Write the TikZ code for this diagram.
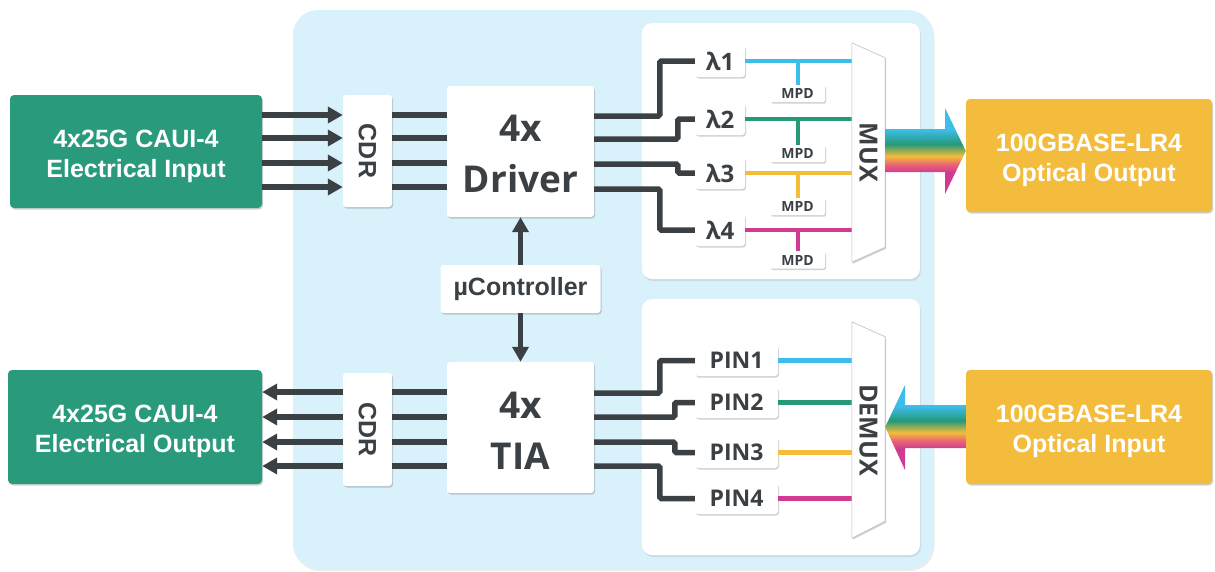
\documentclass[tikz,border=0pt]{standalone}
\usepackage{fontspec}
\setmainfont{Liberation Sans}
\newfontfamily\osans{Open Sans}
\usetikzlibrary{arrows.meta,shadows,calc}

\definecolor{panelblue}{RGB}{217,241,251}
\definecolor{boxgreen}{RGB}{41,155,124}
\definecolor{boxorange}{RGB}{244,188,60}
\definecolor{ink}{RGB}{59,64,69}
\definecolor{lcyan}{RGB}{61,189,234}
\definecolor{lgreen}{RGB}{37,153,120}
\definecolor{lyellow}{RGB}{245,188,58}
\definecolor{lpink}{RGB}{232,98,118}
\definecolor{lmag}{RGB}{208,58,145}

\pgfdeclareverticalshading{rainbow}{100bp}{color(0bp)=(lmag); color(37.5bp)=(lmag); color(42bp)=(lpink); color(47bp)=(lyellow); color(54bp)=(lgreen); color(62.5bp)=(lcyan); color(100bp)=(lcyan)}

\tikzset{
  softshadow/.style={drop shadow={shadow xshift=1pt, shadow yshift=-1.5pt, opacity=0.18, fill=black}},
  wbox/.style={fill=white, rounded corners=3pt, inner sep=0pt, softshadow},
  gbox/.style={fill=boxgreen, rounded corners=4pt, inner sep=0pt, softshadow},
  obox/.style={gbox, fill=boxorange},
  gtxt/.style={text=white, align=center, yshift=-5pt, font=\bfseries\fontsize{25}{30}\selectfont},
  bigtxt/.style={text=ink, align=center, yshift=-2pt, font=\osans\bfseries\fontsize{37}{51}\selectfont},
  cdrtxt/.style={rotate=-90, text=ink, font=\bfseries\fontsize{25}{28}\selectfont},
  muxtxt/.style={rotate=-90, text=ink, font=\osans\bfseries\fontsize{25}{28}\selectfont},
  lam/.style={wbox, minimum width=50pt, minimum height=32pt, text=ink, font=\osans\bfseries\fontsize{24}{28}\selectfont},
  mpd/.style={wbox, rounded corners=1.5pt, minimum width=55pt, minimum height=17pt, text=ink, font=\osans\bfseries\fontsize{14}{16}\selectfont},
  pin/.style={wbox, minimum width=83pt, minimum height=31pt, text=ink, font=\osans\bfseries\fontsize{23}{28}\selectfont},
  mshape/.style={fill=white, draw=black!25, line width=0.6pt, softshadow},
  wire/.style={ink, line width=5.5pt, rounded corners=1.5pt},
  arr/.style={wire, -{Triangle[length=15pt,width=16pt]}},
  cl/.style={line width=4.5pt},
  stub/.style={line width=4pt},
}

\begin{document}
\begin{tikzpicture}[x=1pt,y=-1pt]
\useasboundingbox (0,0) rectangle (1215,571);

% panels
\path[fill=panelblue, rounded corners=25pt, drop shadow={shadow xshift=1.5pt, shadow yshift=-2pt, opacity=0.15}] (293,10) rectangle (933,569);
\path[fill=white, rounded corners=10pt, drop shadow={shadow xshift=1pt, shadow yshift=-2pt, opacity=0.18}] (642,23) rectangle (920,279);
\path[fill=white, rounded corners=10pt, drop shadow={shadow xshift=1pt, shadow yshift=-2pt, opacity=0.18}] (642,299) rectangle (920,555);

% outer boxes
\node[gbox, minimum width=252pt, minimum height=113pt, label={[gtxt]center:{4x25G CAUI-4\\Electrical Input}}] (gin) at (136,151.5) {};
\node[gbox, minimum width=254pt, minimum height=114pt, label={[gtxt, yshift=1pt]center:{4x25G CAUI-4\\Electrical Output}}] (gout) at (135,427) {};
\node[obox, minimum width=246pt, minimum height=113pt, label={[gtxt]center:{100GBASE-LR4\\Optical Output}}] (oout) at (1089,155.5) {};
\node[obox, minimum width=246pt, minimum height=114pt, label={[gtxt, yshift=1pt]center:{100GBASE-LR4\\Optical Input}}] (oin) at (1089,427) {};

% inner blocks
\node[wbox, minimum width=49pt, minimum height=112pt, label={[cdrtxt]center:CDR}] (cdr1) at (367.5,151) {};
\node[wbox, minimum width=49pt, minimum height=113pt, label={[cdrtxt]center:CDR}] (cdr2) at (367.5,429.5) {};
\node[wbox, minimum width=147pt, minimum height=131pt, label={[bigtxt]center:{4x\\Driver}}] (drv) at (520.5,151.5) {};
\node[wbox, minimum width=147pt, minimum height=131pt, label={[bigtxt, yshift=-1pt]center:{4x\\TIA}}] (tia) at (520.5,427.5) {};
\node[wbox, minimum width=160pt, minimum height=48pt, text=ink, font=\bfseries\fontsize{25}{30}\selectfont] (uc) at (520.5,289) {µController};

% lambda and MPD
\node[lam] (l1) at (720,61) {λ1};
\node[lam] (l2) at (720,119) {λ2};
\node[lam] (l3) at (720,173) {λ3};
\node[lam] (l4) at (720,230) {λ4};
\node[mpd] (m1) at (797.5,93.5) {MPD};
\node[mpd] (m2) at (797.5,153.5) {MPD};
\node[mpd] (m3) at (797.5,206.5) {MPD};
\node[mpd] (m4) at (797.5,260) {MPD};

% PIN
\node[pin] (p1) at (736.5,360.5) {PIN1};
\node[pin] (p2) at (736.5,402.5) {PIN2};
\node[pin] (p3) at (736.5,452.5) {PIN3};
\node[pin] (p4) at (736.5,498.5) {PIN4};

% MUX / DEMUX frames
\node[inner sep=0pt, minimum width=33pt, minimum height=219pt] (mux) at (868.5,152.5) {};
\node[inner sep=0pt, minimum width=33pt, minimum height=216pt] (dmx) at (868.5,430) {};

% coloured lines
\draw[cl, lcyan] (l1.east) -- (l1.east -| mux.west);
\draw[cl, lgreen] (l2.east) -- (l2.east -| mux.west);
\draw[cl, lyellow] (l3.east) -- (l3.east -| mux.west);
\draw[cl, lmag] (l4.east) -- (l4.east -| mux.west);
\draw[stub, lcyan] (m1.north) -- (m1.north |- l1.east);
\draw[stub, lgreen] (m2.north) -- (m2.north |- l2.east);
\draw[stub, lyellow] (m3.north) -- (m3.north |- l3.east);
\draw[stub, lmag] (m4.north) -- (m4.north |- l4.east);
\draw[cl, lcyan] (p1.east) -- (p1.east -| dmx.west);
\draw[cl, lgreen] (p2.east) -- (p2.east -| dmx.west);
\draw[cl, lyellow] (p3.east) -- (p3.east -| dmx.west);
\draw[cl, lmag] (p4.east) -- (p4.east -| dmx.west);

\draw[mshape] (mux.north west) -- ([yshift=-15pt]mux.north east) -- ([yshift=15pt]mux.south east) -- (mux.south west) -- cycle;
\draw[mshape] (dmx.north west) -- ([yshift=-15pt]dmx.north east) -- ([yshift=17pt]dmx.south east) -- (dmx.south west) -- cycle;
\node[muxtxt] (muxlabel) at (mux.center) {MUX};
\node[muxtxt] (dmxlabel) at (dmx.center) {DEMUX};

% rainbow arrows
\coordinate (ra1) at (0,129);
\coordinate (ra2) at (0,151);
\coordinate (ra3) at (0,172);
\coordinate (rb1) at (0,405);
\coordinate (rb2) at (0,427);
\coordinate (rb3) at (0,448);
\path[shading=rainbow] (mux.east |- ra1) -- (945,129) -- (945,108) -- (oout.west |- ra2) -- (945,194) -- (945,172) -- (mux.east |- ra3) -- cycle;
\path[shading=rainbow] (oin.west |- rb1) -- (905,405) -- (905,385) -- (dmx.east |- rb2) -- (905,470) -- (905,448) -- (oin.west |- rb3) -- cycle;

% electrical input side
\foreach \y in {115,138,163,187}{
  \coordinate (yy) at (0,\y);
  \draw[arr] (gin.east |- yy) -- (cdr1.west |- yy);
  \draw[wire] (cdr1.east |- yy) -- (drv.west |- yy);
}
% electrical output side
\foreach \y in {392,417,442,466}{
  \coordinate (yy) at (0,\y);
  \draw[arr] (cdr2.west |- yy) -- (gout.east |- yy);
  \draw[wire] (tia.west |- yy) -- (cdr2.east |- yy);
}

% driver to lambda
\coordinate (ya) at (0,116);
\coordinate (yb) at (0,139);
\coordinate (yc) at (0,164);
\coordinate (yd) at (0,189);
\draw[wire] (drv.east |- ya) -| ([xshift=-35pt]l1.west) -- (l1.west);
\draw[wire] (drv.east |- yb) -| ([xshift=-17pt]l2.west) -- (l2.west);
\draw[wire] (drv.east |- yc) -| ([xshift=-17pt]l3.west) -- (l3.west);
\draw[wire] (drv.east |- yd) -| ([xshift=-35pt]l4.west) -- (l4.west);

% TIA to PIN
\coordinate (ye) at (0,393);
\coordinate (yf) at (0,417);
\coordinate (yg) at (0,442);
\coordinate (yh) at (0,466);
\draw[wire] (tia.east |- ye) -| ([xshift=-35pt]p1.west) -- (p1.west);
\draw[wire] (tia.east |- yf) -| ([xshift=-20pt]p2.west) -- (p2.west);
\draw[wire] (tia.east |- yg) -| ([xshift=-20pt]p3.west) -- (p3.west);
\draw[wire] (tia.east |- yh) -| ([xshift=-35pt]p4.west) -- (p4.west);

% controller
\draw[arr] (uc.north) -- (drv.south);
\draw[arr] (uc.south) -- (tia.north);
\end{tikzpicture}
\end{document}
